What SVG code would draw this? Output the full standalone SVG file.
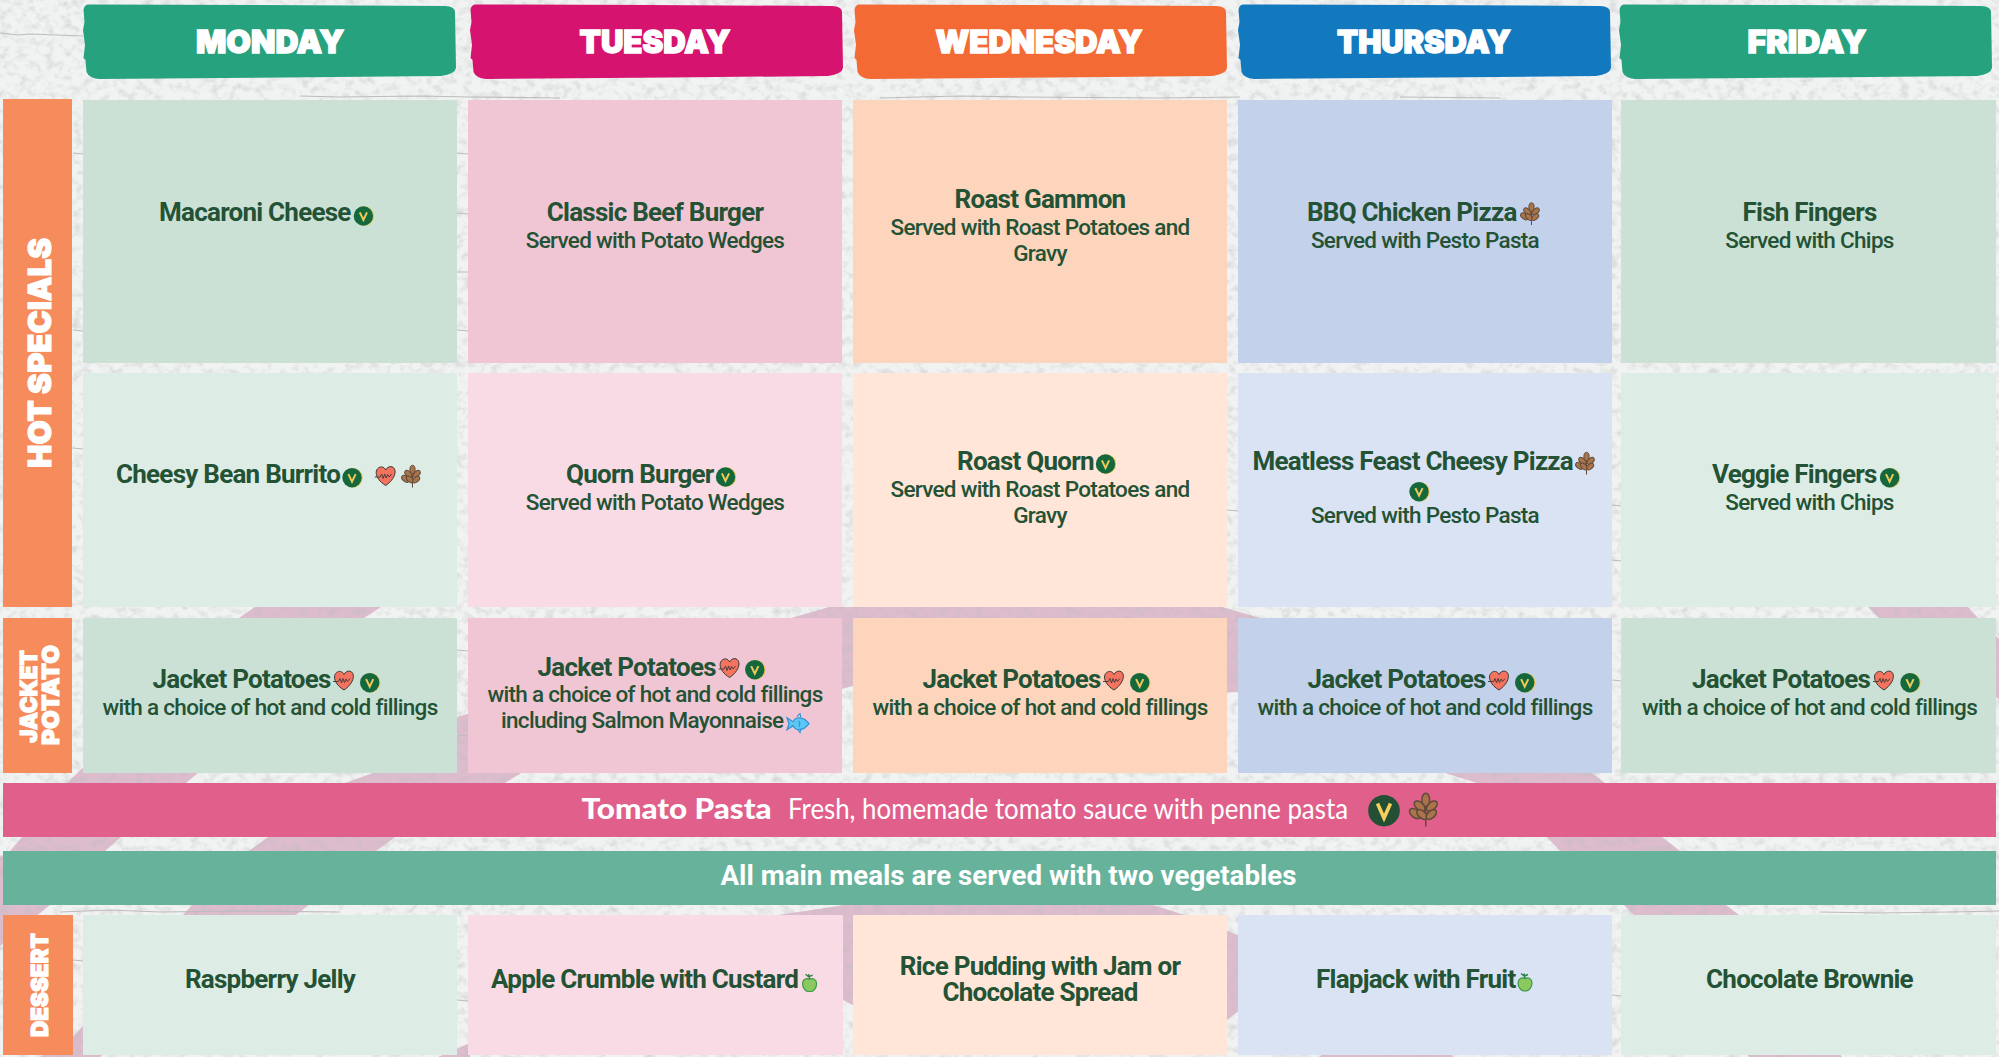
<svg xmlns="http://www.w3.org/2000/svg" width="1999" height="1057" viewBox="0 0 1999 1057">
<style>
text{font-family:Roboto,"Liberation Sans",sans-serif}
.t{font-size:26px;font-weight:700;fill:#235235;letter-spacing:-.75px;text-anchor:middle}
.s{font-size:22.5px;font-weight:500;fill:#235235;letter-spacing:-.7px;text-anchor:middle}
.l{text-anchor:start}
.h{font-family:Inter,Roboto,sans-serif;font-size:31px;font-weight:900;fill:#fff;stroke:#fff;stroke-width:1.4px;text-anchor:middle}
.v{font-family:Inter,Roboto,sans-serif;font-weight:900;fill:#fff;stroke:#fff;stroke-width:1.1px;text-anchor:middle}
.a{fill:#cbe1d6}.b{fill:#f1c6d4}.c{fill:#fdd5bd}.d{fill:#c3d1eb}
.e{fill:#deece6}.f{fill:#f8dbe4}.g{fill:#ffe6d8}.i{fill:#dae3f4}
.o{fill:#f68b5c}
.p{fill:#dcbccd}
.m{fill:none;stroke:#bcbcbc;stroke-width:1.2}
.ban{font-family:Lato,"Open Sans",sans-serif;fill:#fff}
</style>
<defs>
<filter id="tex" x="0" y="0" width="100%" height="100%">
<feTurbulence type="fractalNoise" baseFrequency="0.11 0.13" numOctaves="4" seed="7"/>
<feColorMatrix values="0 0 0 0 .5  0 0 0 0 .5  0 0 0 0 .5  1.1 0 0 0 -.5"/>
</filter>
<path id="brush" d="M5,4.5 L180,5 L362,6 Q372,6.5 372,12 L372.5,40 L373,68 Q372,74 358,76 L200,77.5 L16,79 Q6,78 3.5,72 L2.5,60 L.5,58 L2,45 L0,30 L1.5,22 L.5,10 Q1,5 5,4.5 Z"/>
<g id="badge">
<circle cx=".9" cy="0" r="9.8" fill="#e9c658"/>
<circle cx="0" cy="0" r="9.7" fill="#14683c"/>
<path d="M-3.6,-3.6 L0,4 L3.6,-3.6" fill="none" stroke="#efc95a" stroke-width="2"/>
</g>
<g id="heart">
<path d="M0,9.5 C-6,6 -9.5,1 -9.5,-3.5 C-9.5,-7.5 -6,-9.5 -3.5,-9 C-2,-8.7 -.7,-7.7 0,-6 C1,-8 3,-9.6 5.5,-9.4 C8.5,-9 9.8,-6 9.3,-3 C8.6,2 4,7 0,9.5 Z" fill="#f4735e" stroke="#3a3a3a" stroke-width="1"/>
<path d="M-11,1 L-5.5,1 L-4,-2 L-2.5,2.5 L-1,-2 L.5,2 L2,-1.5 L3.5,1 L6,-2" fill="none" stroke="#3a3a3a" stroke-width=".9"/>
</g>
<g id="wheat" fill="#a9744a" stroke="#5f4a3c" stroke-width="1">
<path d="M.5,11 L.5,-4" fill="none"/>
<ellipse cx=".5" cy="-6.8" rx="2.6" ry="4.4"/>
<ellipse cx="-3.6" cy="-2.6" rx="2.5" ry="4.3" transform="rotate(-48 -3.6 -2.6)"/>
<ellipse cx="4.6" cy="-2.6" rx="2.5" ry="4.3" transform="rotate(48 4.6 -2.6)"/>
<ellipse cx="-6.6" cy="2.4" rx="2.6" ry="4.3" transform="rotate(-52 -6.6 2.4)"/>
<ellipse cx="-2" cy="3" rx="2.4" ry="4.1" transform="rotate(-48 -2 3)"/>
<ellipse cx="4.2" cy="3" rx="2.4" ry="4.1" transform="rotate(48 4.2 3)"/>
</g>
<g id="fish">
<path d="M-5,-2 C-2,-8 6,-7 11,0 C6,7 -2,8 -5,2 L-11,6 L-9,0 L-11,-6 Z" fill="#5cc6f5" stroke="#2f93d8" stroke-width="1.2"/>
<path d="M-1,-7 L2,-10 L3,-6 M0,6 L2,9 L3,5 M1,-3 C2,-1 2,1 1,3" fill="none" stroke="#2f93d8" stroke-width="1.1"/>
</g>
<g id="apple">
<path d="M0,-3.5 C-3,-5 -7,-3.5 -7,1 C-7,5 -4,9 -1.5,8.8 L1.5,8.8 C4,9 7,5 7,1 C7,-3.5 3,-5 0,-3.5 Z" fill="#8ac95e" stroke="#3f9a4a" stroke-width="1.2"/>
<path d="M0,-3.5 L-1,-8.5 M-1,-6 L-4,-8.5 M-.5,-6 L3,-7.5" fill="none" stroke="#2c7f45" stroke-width="1.4"/>
</g>
</defs>

<g id="background">
<rect width="1999" height="1057" fill="#f1f2f2"/>
<path class="p" d="M255,607 L381,607 L364,618 L198,773 L121,837 L105,851 L50,905 L-5,950 L-5,860 L10,851 L22,837 L67,783 L239,618 Z"/>
<path class="p" d="M829,607 L1222,607 L1260,618 L1238,692 L1040,700 L853,686 L521,773 L505,783 L395,837 L376,851 L296,915 L100,1057 L40,1057 L73,1037 L192,905 L249,851 L268,837 L345,783 L373,773 L457,717 L791,618 Z"/>
<path class="p" d="M1868,607 L1968,607 L1978,618 L2000,640 L2000,700 L1879,618 Z"/>
<path class="p" d="M1445,773 L1592,773 L1605,783 L1662,837 L1680,851 L1726,905 L1739,915 L1842,1057 L1749,1057 L1634,915 L1624,905 L1560,851 L1547,837 L1477,783 Z"/>
<path class="p" d="M778,915 L845,905 L1153,905 L1185,915 L1238,935 L1240,1010 L1200,1040 L900,1030 L843,1000 Z"/>
<path class="p" d="M1319,1057 L1345,1040 L1440,1040 L1453,1057 Z"/>
<path class="p" d="M470,1043 L470,1057 L438,1057 Z"/>
<rect width="1999" height="1057" filter="url(#tex)"/>
<path class="m" d="M0,33 L18,35 L30,34 L83,36 M300,96 L340,97 L420,96 L470,97 L560,98 M880,98 L960,96 L1020,97 L1160,98 L1240,97 M1400,97 L1500,98 M73,153 L83,154 M73,330 L83,331 M73,448 L83,449 M457,153 L468,154 M457,213 L468,214 M457,272 L468,272 M457,330 L468,331 M457,650 L468,651 M458,735 L468,736 M1227,510 L1238,511 M1612,505 L1621,506 M1612,560 L1621,561 M1612,680 L1621,681 M60,912 L110,910 L160,912 L240,911 L340,912 M1820,912 L1880,913 L1950,912 L1999,911 M73,960 L83,961 M457,1000 L468,1001 M1612,995 L1621,996"/>
</g>

<g id="header-monday"><use href="#brush" x="83" fill="#27a27f"/><text class="h" x="270" y="53" textLength="148" lengthAdjust="spacingAndGlyphs">MONDAY</text></g>
<g id="header-tuesday"><use href="#brush" x="470" fill="#d61470"/><text class="h" x="655" y="53" textLength="151" lengthAdjust="spacingAndGlyphs">TUESDAY</text></g>
<g id="header-wednesday"><use href="#brush" x="854" fill="#f36a34"/><text class="h" x="1039" y="53" textLength="207" lengthAdjust="spacingAndGlyphs">WEDNESDAY</text></g>
<g id="header-thursday"><use href="#brush" x="1238" fill="#1379bf"/><text class="h" x="1424" y="53" textLength="174" lengthAdjust="spacingAndGlyphs">THURSDAY</text></g>
<g id="header-friday"><use href="#brush" x="1619" fill="#27a27f"/><text class="h" x="1807" y="53" textLength="119" lengthAdjust="spacingAndGlyphs">FRIDAY</text></g>

<g id="label-hot-specials"><rect class="o" x="3" y="99" width="69" height="508"/><text class="v" transform="translate(50.5,353) rotate(-90)" font-size="32" textLength="230" lengthAdjust="spacingAndGlyphs">HOT SPECIALS</text></g>
<g id="label-jacket-potato"><rect class="o" x="3" y="618" width="69" height="155"/><text class="v" transform="translate(36.5,696.5) rotate(-90)" font-size="23.5" textLength="93" lengthAdjust="spacingAndGlyphs">JACKET</text><text class="v" transform="translate(58.5,695) rotate(-90)" font-size="23.5" textLength="100" lengthAdjust="spacingAndGlyphs">POTATO</text></g>
<g id="label-dessert"><rect class="o" x="3" y="915" width="70" height="140"/><text class="v" transform="translate(47.5,985) rotate(-90)" font-size="23.5" textLength="104" lengthAdjust="spacingAndGlyphs">DESSERT</text></g>

<g id="mon-hot"><rect class="a" x="83" y="100" width="374" height="263"/><text class="t l" x="159" y="220.7">Macaroni Cheese</text><use href="#badge" x="363.4" y="216"/></g>
<g id="tue-hot"><rect class="b" x="468" y="100" width="374" height="263"/><text class="t" x="655" y="220.7">Classic Beef Burger</text><text class="s" x="655" y="248">Served with Potato Wedges</text></g>
<g id="wed-hot"><rect class="c" x="853" y="100" width="374" height="263"/><text class="t" x="1040" y="208">Roast Gammon</text><text class="s" x="1040" y="235">Served with Roast Potatoes and</text><text class="s" x="1040" y="261">Gravy</text></g>
<g id="thu-hot"><rect class="d" x="1238" y="100" width="374" height="263"/><text class="t l" x="1307" y="220.7">BBQ Chicken Pizza</text><use href="#wheat" x="1531" y="214"/><text class="s" x="1425" y="248">Served with Pesto Pasta</text></g>
<g id="fri-hot"><rect class="a" x="1621" y="100" width="375" height="263"/><text class="t" x="1809.5" y="220.7">Fish Fingers</text><text class="s" x="1809.5" y="248">Served with Chips</text></g>

<g id="mon-veg"><rect class="e" x="83" y="373" width="374" height="234"/><text class="t l" x="116" y="483">Cheesy Bean Burrito</text><use href="#badge" x="352" y="477.7"/><use href="#heart" x="385.7" y="476"/><use href="#wheat" x="412" y="476.5"/></g>
<g id="tue-veg"><rect class="f" x="468" y="373" width="374" height="234"/><text class="t l" x="566" y="483">Quorn Burger</text><use href="#badge" x="725.5" y="477"/><text class="s" x="655" y="510">Served with Potato Wedges</text></g>
<g id="wed-veg"><rect class="g" x="853" y="373" width="374" height="234"/><text class="t l" x="957" y="470">Roast Quorn</text><use href="#badge" x="1105.5" y="464"/><text class="s" x="1040" y="497">Served with Roast Potatoes and</text><text class="s" x="1040" y="523">Gravy</text></g>
<g id="thu-veg"><rect class="i" x="1238" y="373" width="374" height="234"/><text class="t l" x="1252.5" y="470">Meatless Feast Cheesy Pizza</text><use href="#wheat" x="1586" y="463.5"/><use href="#badge" x="1419" y="491.7"/><text class="s" x="1425" y="522.7">Served with Pesto Pasta</text></g>
<g id="fri-veg"><rect class="e" x="1621" y="373" width="375" height="234"/><text class="t l" x="1712" y="482.7">Veggie Fingers</text><use href="#badge" x="1889.6" y="477.7"/><text class="s" x="1809.5" y="509.5">Served with Chips</text></g>

<g id="mon-jacket"><rect class="a" x="83" y="618" width="374" height="155"/><text class="t l" x="152.5" y="688">Jacket Potatoes</text><use href="#heart" x="344" y="680.5"/><use href="#badge" x="369.7" y="682.7"/><text class="s" x="270" y="715">with a choice of hot and cold fillings</text></g>
<g id="tue-jacket"><rect class="b" x="468" y="618" width="374" height="155"/><text class="t l" x="537.6" y="676">Jacket Potatoes</text><use href="#heart" x="729.6" y="668"/><use href="#badge" x="754.8" y="669.7"/><text class="s" x="655" y="701.7">with a choice of hot and cold fillings</text><text class="s l" x="501" y="728.3">including Salmon Mayonnaise</text><use href="#fish" x="798" y="723.7"/></g>
<g id="wed-jacket"><rect class="c" x="853" y="618" width="374" height="155"/><text class="t l" x="922.5" y="688">Jacket Potatoes</text><use href="#heart" x="1114" y="680.5"/><use href="#badge" x="1139.7" y="682.7"/><text class="s" x="1040" y="715">with a choice of hot and cold fillings</text></g>
<g id="thu-jacket"><rect class="d" x="1238" y="618" width="374" height="155"/><text class="t l" x="1307.5" y="688">Jacket Potatoes</text><use href="#heart" x="1499" y="680.5"/><use href="#badge" x="1524.7" y="682.7"/><text class="s" x="1425" y="715">with a choice of hot and cold fillings</text></g>
<g id="fri-jacket"><rect class="a" x="1621" y="618" width="375" height="155"/><text class="t l" x="1692" y="688">Jacket Potatoes</text><use href="#heart" x="1884" y="680.5"/><use href="#badge" x="1910" y="682.7"/><text class="s" x="1809.5" y="715">with a choice of hot and cold fillings</text></g>

<g id="banner-pasta"><rect x="3" y="783" width="1993" height="54" fill="#e0608b"/>
<text class="ban" x="581.6" y="818.6" font-size="28" font-weight="900" textLength="190" lengthAdjust="spacingAndGlyphs">Tomato Pasta</text>
<text class="ban" x="788" y="819" font-size="29" font-weight="400" textLength="560" lengthAdjust="spacingAndGlyphs">Fresh, homemade tomato sauce with penne pasta</text>
<circle cx="1384" cy="810.7" r="15.8" fill="#234f35"/><path d="M1377.5,803.5 L1384,818 L1390.5,803.5" fill="none" stroke="#f6cf5d" stroke-width="3.6"/>
<use href="#wheat" transform="translate(1425,810) scale(1.5)"/></g>
<g id="banner-vegetables"><rect x="3" y="851" width="1993" height="54" fill="#66b29a"/>
<text x="1008.5" y="885" font-size="28.5" font-weight="700" fill="#fff" text-anchor="middle" textLength="576" lengthAdjust="spacingAndGlyphs">All main meals are served with two vegetables</text></g>

<g id="mon-dessert"><rect class="e" x="83" y="915" width="374" height="140"/><text class="t" x="270" y="988.3">Raspberry Jelly</text></g>
<g id="tue-dessert"><rect class="f" x="468" y="915" width="375" height="140"/><text class="t l" x="491" y="988.3">Apple Crumble with Custard</text><use href="#apple" x="809.6" y="982.7"/></g>
<g id="wed-dessert"><rect class="g" x="853" y="915" width="374" height="140"/><text class="t" x="1040" y="975">Rice Pudding with Jam or</text><text class="t" x="1040" y="1001">Chocolate Spread</text></g>
<g id="thu-dessert"><rect class="i" x="1238" y="915" width="374" height="140"/><text class="t l" x="1316" y="988.3">Flapjack with Fruit</text><use href="#apple" x="1525" y="982"/></g>
<g id="fri-dessert"><rect class="e" x="1621" y="915" width="375" height="140"/><text class="t" x="1809.5" y="988.3">Chocolate Brownie</text></g>
</svg>
